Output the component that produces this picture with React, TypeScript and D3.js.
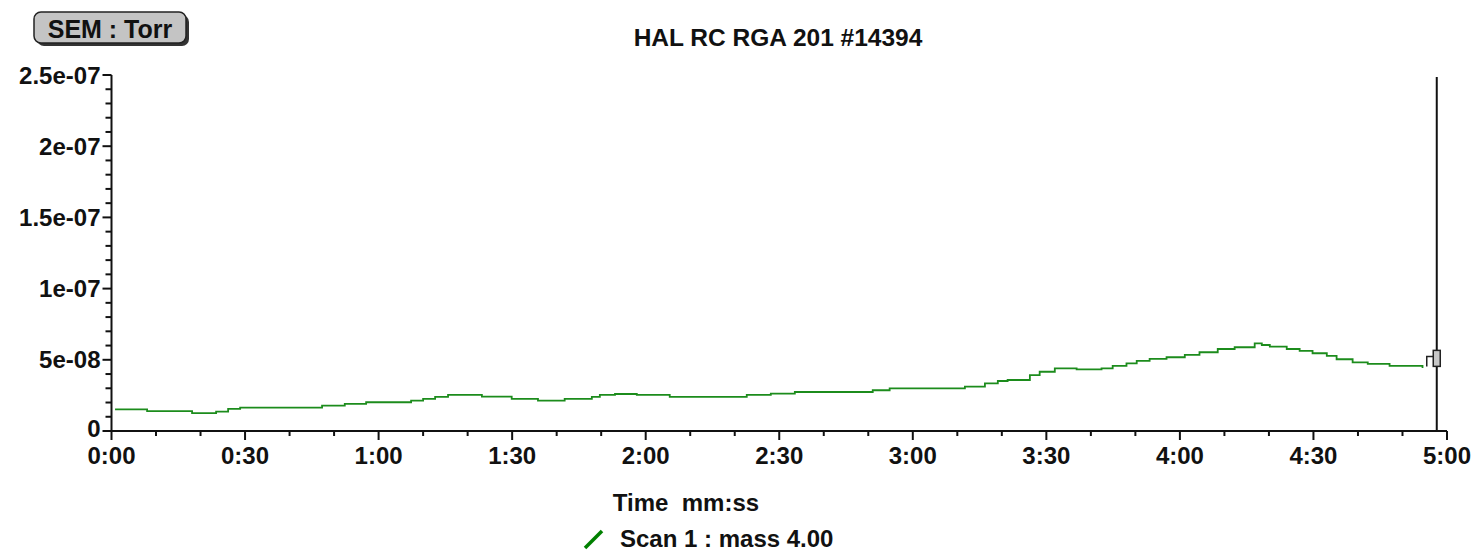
import React from "react";
import * as d3 from "d3";

// Scan trace: elapsed seconds and SEM partial pressure (units of 1e-8 Torr)
const timeSec = [
  0.8, 8.0, 18.1, 23.5, 26.2, 28.9, 47.3, 52.4, 57.2, 67.3, 70.0, 72.7, 75.6, 83.2,
  89.9, 95.8, 101.8, 107.9, 109.7, 113.1, 118.0, 125.4, 142.7, 148.1, 153.5, 171.0,
  174.8, 191.7, 196.2, 199.1, 201.3, 206.3, 208.5, 211.9, 216.8, 222.4, 224.9, 228.0,
  230.3, 233.2, 237.0, 241.1, 244.4, 248.5, 252.3, 256.8, 258.4, 260.2, 264.0, 266.9,
  269.8, 273.0, 275.2, 278.8, 282.2, 287.1, 294.0, 294.5,
];
const pressureE8 = [
  1.52, 1.40, 1.26, 1.36, 1.55, 1.64, 1.78, 1.90, 2.02, 2.13, 2.25, 2.39, 2.53, 2.41,
  2.25, 2.13, 2.25, 2.39, 2.53, 2.60, 2.53, 2.39, 2.53, 2.62, 2.74, 2.86,
  3.00, 3.11, 3.35, 3.51, 3.58, 3.93, 4.16, 4.40, 4.33, 4.40, 4.57, 4.75,
  4.92, 5.06, 5.18, 5.34, 5.53, 5.76, 5.88, 6.16, 6.04, 5.92, 5.76, 5.62,
  5.46, 5.27, 5.04, 4.82, 4.71, 4.57, 4.57, 4.42,
];

const yTicks = [0, 5e-8, 1e-7, 1.5e-7, 2e-7, 2.5e-7];
const yTickLabels = ["0", "5e-08", "1e-07", "1.5e-07", "2e-07", "2.5e-07"];
const xTicks = [0, 30, 60, 90, 120, 150, 180, 210, 240, 270, 300];
const xTickLabels = ["0:00", "0:30", "1:00", "1:30", "2:00", "2:30", "3:00", "3:30", "4:00", "4:30", "5:00"];

const cursorTime = 297.7;
const cursorValue = 5.1e-8;

const title = "HAL RC RGA 201 #14394";
const unitLabel = "SEM : Torr";
const xTitle = "Time  mm:ss";
const seriesName = "Scan 1 : mass 4.00";

const FONT = "'Liberation Sans', Arial, sans-serif";

export default function App() {
  const W = 1473;
  const H = 550;
  const left = 111.5;
  const right = 1447;
  const top = 75;
  const bottom = 431;

  const x = d3.scaleLinear().domain([0, 300]).range([left, right]);
  const y = d3.scaleLinear().domain([0, 2.5e-7]).range([bottom, top]);

  const points: [number, number][] = timeSec.map((t, i) => [t, pressureE8[i] * 1e-8]);
  const line = d3
    .line<[number, number]>()
    .x((d) => x(d[0]))
    .y((d) => y(d[1]))
    .curve(d3.curveStepAfter);

  const xMinor = d3.range(0, 301, 10).filter((t) => t % 30 !== 0);
  const yMinor = d3.range(0, 26).map((i) => i * 1e-8).filter((_, i) => i % 5 !== 0);

  const cx = x(cursorTime);
  const cy = y(cursorValue);

  return (
    <svg width={W} height={H} style={{ position: "absolute", left: 0, top: 0, background: "#fff" }}>
      <rect width={W} height={H} fill="#fff" />

      {/* unit badge */}
      <g>
        <rect x={37} y={15} width={152} height={31} rx={7} fill="#333" />
        <rect x={34} y={12} width={152} height={31} rx={7} fill="#c4c4c4" stroke="#222" strokeWidth={1.5} />
        <text x={110} y={29} textAnchor="middle" dominantBaseline="central" fontFamily={FONT} fontWeight="bold" fontSize={25} fill="#111">
          {unitLabel}
        </text>
      </g>

      <text x={778} y={37} textAnchor="middle" dominantBaseline="central" fontFamily={FONT} fontWeight="bold" fontSize={24.5} fill="#111">
        {title}
      </text>

      {/* axes */}
      <g stroke="#111" strokeWidth={2} fill="none">
        <line x1={left} y1={top} x2={left} y2={bottom} />
        <line x1={left} y1={bottom} x2={right} y2={bottom} />
        {yTicks.map((v) => (
          <line key={"ym" + v} x1={left - 9} x2={left} y1={y(v)} y2={y(v)} />
        ))}
        {yMinor.map((v) => (
          <line key={"yn" + v} x1={left - 6} x2={left} y1={y(v)} y2={y(v)} />
        ))}
        {xTicks.map((t) => (
          <line key={"xm" + t} x1={x(t)} x2={x(t)} y1={bottom} y2={bottom + 9} />
        ))}
        {xMinor.map((t) => (
          <line key={"xn" + t} x1={x(t)} x2={x(t)} y1={bottom} y2={bottom + 5} />
        ))}
      </g>

      <g fontFamily={FONT} fontWeight="bold" fontSize={24} fill="#111">
        {yTicks.map((v, i) => (
          <text
            key={"yl" + v}
            x={left - 11}
            y={v === 0 ? y(v) - 3 : y(v)}
            textAnchor="end"
            dominantBaseline="central"
          >
            {yTickLabels[i]}
          </text>
        ))}
        {xTicks.map((t, i) => (
          <text key={"xl" + t} x={x(t)} y={bottom + 24} textAnchor="middle" dominantBaseline="central">
            {xTickLabels[i]}
          </text>
        ))}
      </g>

      {/* trace */}
      <path d={line(points) || ""} fill="none" stroke="#1c8c1c" strokeWidth={1.8} />

      {/* cursor */}
      <line x1={cx} x2={cx} y1={top + 2} y2={bottom} stroke="#111" strokeWidth={2} />
      <path
        d={`M${cx - 10},${cy + 8} V${cy - 2} H${cx - 3}`}
        fill="none"
        stroke="#222"
        strokeWidth={1.5}
      />
      <rect x={cx - 3.5} y={cy - 8} width={7} height={16} fill="#c8c8c8" stroke="#222" strokeWidth={1.5} />

      {/* axis title and legend */}
      <text x={686} y={502} textAnchor="middle" dominantBaseline="central" fontFamily={FONT} fontWeight="bold" fontSize={24} fill="#111" style={{ whiteSpace: "pre" }}>
        {xTitle}
      </text>
      <line x1={585} y1={548} x2={602} y2={531} stroke="#008000" strokeWidth={3.5} />
      <text x={620} y={538} dominantBaseline="central" fontFamily={FONT} fontWeight="bold" fontSize={24} fill="#111">
        {seriesName}
      </text>
    </svg>
  );
}
